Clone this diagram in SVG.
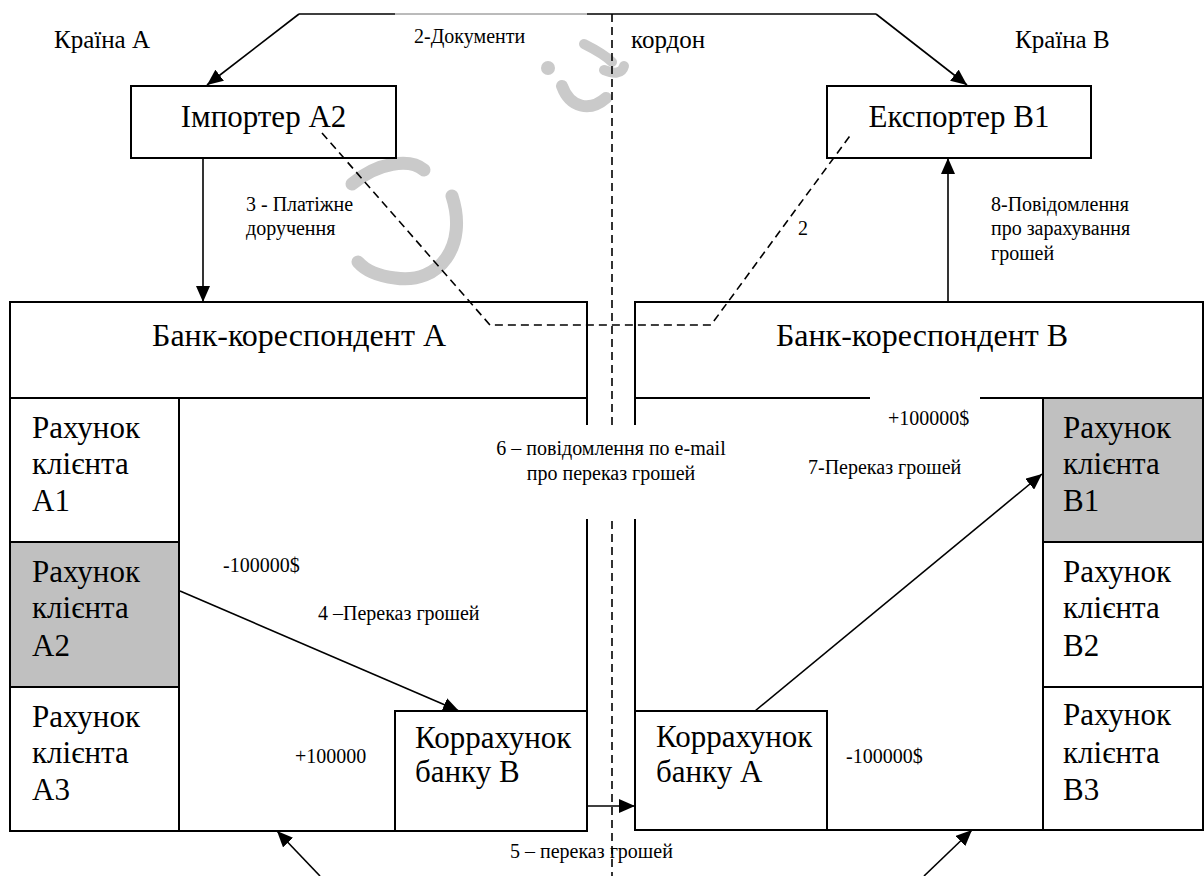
<svg xmlns="http://www.w3.org/2000/svg" width="1204" height="876" viewBox="0 0 1204 876">
<style>
.box{fill:#fff;stroke:#000;stroke-width:2}
.gbox{fill:#c0c0c0;stroke:#000;stroke-width:2}
.t{font-family:"Liberation Serif","Times New Roman","DejaVu Serif",serif;fill:#000}
.big{font-size:31px}
.hdr{font-size:32px}
.mid{font-size:25px}
.sm{font-size:20px}
.conn{stroke:#000;stroke-width:1.6;fill:none}
.dash{stroke:#000;stroke-width:1.6;fill:none;stroke-dasharray:8 5}
.wm{stroke:#cacaca;fill:none;stroke-linecap:round}
.cover{fill:#fff;stroke:none}
</style>
<defs>
<marker id="ah" markerUnits="userSpaceOnUse" markerWidth="16" markerHeight="14" refX="16" refY="7" orient="auto">
<path d="M0,0 L16,7 L0,14 z" fill="#000"/>
</marker>
</defs>
<rect width="1204" height="876" fill="#fff"/>

<g id="watermark">
<path class="wm" stroke-width="13" d="M352,184 C378,162 410,158 424,170"/>
<path class="wm" stroke-width="13" d="M452,196 C468,245 440,285 395,278 C378,276 365,270 358,262"/>
<circle cx="548" cy="68" r="7" fill="#cacaca"/>
<path class="wm" stroke-width="12" d="M562,86 C570,108 590,112 606,98"/>
<path class="wm" stroke-width="10" d="M584,44 C596,50 606,56 612,62"/>
<path class="wm" stroke-width="10" d="M604,70 C614,74 622,74 624,66"/>
</g>

<g id="labels-top">
<text class="t mid" x="54" y="48">Країна А</text>
<text class="t mid" x="631" y="48">кордон</text>
<text class="t mid" x="1015" y="48">Країна В</text>
</g>

<g id="importer">
<rect class="box" x="131" y="86" width="265" height="72"/>
<text class="t big" x="263.5" y="127" text-anchor="middle">Імпортер А2</text>
</g>

<g id="exporter">
<rect class="box" x="827" y="86" width="264" height="72"/>
<text class="t big" x="959" y="127" text-anchor="middle">Експортер В1</text>
</g>

<g id="bankA">
<rect class="box" x="10" y="302" width="577" height="529"/>
<line x1="10" y1="398" x2="587" y2="398" stroke="#000" stroke-width="2"/>
<text class="t hdr" x="299" y="346" text-anchor="middle">Банк-кореспондент А</text>
</g>

<g id="accA1">
<rect class="box" x="10" y="398" width="169" height="144"/>
<text class="t big" x="32" y="438">Рахунок</text>
<text class="t big" x="32" y="474">клієнта</text>
<text class="t big" x="32" y="511">А1</text>
</g>
<g id="accA2">
<rect class="gbox" x="10" y="542" width="169" height="145"/>
<text class="t big" x="32" y="582">Рахунок</text>
<text class="t big" x="32" y="618">клієнта</text>
<text class="t big" x="32" y="656">А2</text>
</g>
<g id="accA3">
<rect class="box" x="10" y="687" width="169" height="144"/>
<text class="t big" x="32" y="727">Рахунок</text>
<text class="t big" x="32" y="763">клієнта</text>
<text class="t big" x="32" y="800">А3</text>
</g>
<g id="corrA">
<rect class="box" x="395" y="711" width="192" height="120"/>
<text class="t big" x="415" y="748">Коррахунок</text>
<text class="t big" x="415" y="782">банку В</text>
</g>

<g id="bankB">
<rect class="box" x="635" y="302" width="568" height="528"/>
<line x1="635" y1="398" x2="1203" y2="398" stroke="#000" stroke-width="2"/>
<text class="t hdr" x="922" y="346" text-anchor="middle">Банк-кореспондент В</text>
</g>
<g id="accB1">
<rect class="gbox" x="1043" y="398" width="160" height="144"/>
<text class="t big" x="1063" y="438">Рахунок</text>
<text class="t big" x="1063" y="474">клієнта</text>
<text class="t big" x="1063" y="511">В1</text>
</g>
<g id="accB2">
<rect class="box" x="1043" y="542" width="160" height="145"/>
<text class="t big" x="1063" y="582">Рахунок</text>
<text class="t big" x="1063" y="618">клієнта</text>
<text class="t big" x="1063" y="656">В2</text>
</g>
<g id="accB3">
<rect class="box" x="1043" y="687" width="160" height="143"/>
<text class="t big" x="1063" y="725">Рахунок</text>
<text class="t big" x="1063" y="763">клієнта</text>
<text class="t big" x="1063" y="800">В3</text>
</g>
<g id="corrB">
<rect class="box" x="635" y="711" width="192" height="119"/>
<text class="t big" x="656" y="747">Коррахунок</text>
<text class="t big" x="656" y="782">банку А</text>
</g>

<g id="connectors">
<line x1="612" y1="14" x2="612" y2="876" class="dash"/>
<path class="conn" d="M299,14 L395,14 M587,14 L876,14"/>
<path d="M395,14 L587,14" stroke="#777" stroke-width="1" fill="none"/>
<path class="conn" d="M299,14 L207,85" marker-end="url(#ah)"/>
<path class="conn" d="M876,14 L967,85" marker-end="url(#ah)"/>
<path class="conn" d="M203,158 L203,302" marker-end="url(#ah)"/>
<path class="conn" d="M948,302 L948,158" marker-end="url(#ah)"/>
<path class="dash" d="M322,133 L490,325 L711,325 L852,133"/>
<path class="conn" d="M180,591 L459,711" marker-end="url(#ah)"/>
<path class="conn" d="M587,806 L635,806" marker-end="url(#ah)"/>
<path class="conn" d="M755,711 L1042,474" marker-end="url(#ah)"/>
<path class="conn" d="M320,876 L277,831" marker-end="url(#ah)"/>
<path class="conn" d="M924,876 L972,830" marker-end="url(#ah)"/>
</g>

<g id="label-boxes">
<rect class="cover" x="478" y="425" width="268" height="94"/>
<rect class="cover" x="289" y="733" width="105" height="50"/>
<rect class="cover" x="870" y="397" width="110" height="38"/>
</g>

<g id="connector-labels">
<text class="t sm" x="414" y="43">2-Документи</text>
<text class="t sm" x="246" y="211">3 - Платіжне</text>
<text class="t sm" x="246" y="235">доручення</text>
<text class="t sm" x="798" y="235">2</text>
<text class="t sm" x="991" y="211">8-Повідомлення</text>
<text class="t sm" x="991" y="235">про зарахування</text>
<text class="t sm" x="991" y="260">грошей</text>
<text class="t sm" x="611" y="455" text-anchor="middle">6 – повідомлення по e-mail</text>
<text class="t sm" x="611" y="480" text-anchor="middle">про переказ грошей</text>
<text class="t sm" x="888" y="425">+100000$</text>
<text class="t sm" x="808" y="474">7-Переказ грошей</text>
<text class="t sm" x="223" y="572">-100000$</text>
<text class="t sm" x="318" y="620">4 –Переказ грошей</text>
<text class="t sm" x="295" y="763">+100000</text>
<text class="t sm" x="846" y="763">-100000$</text>
<text class="t sm" x="510" y="858">5 – переказ грошей</text>
</g>
</svg>
